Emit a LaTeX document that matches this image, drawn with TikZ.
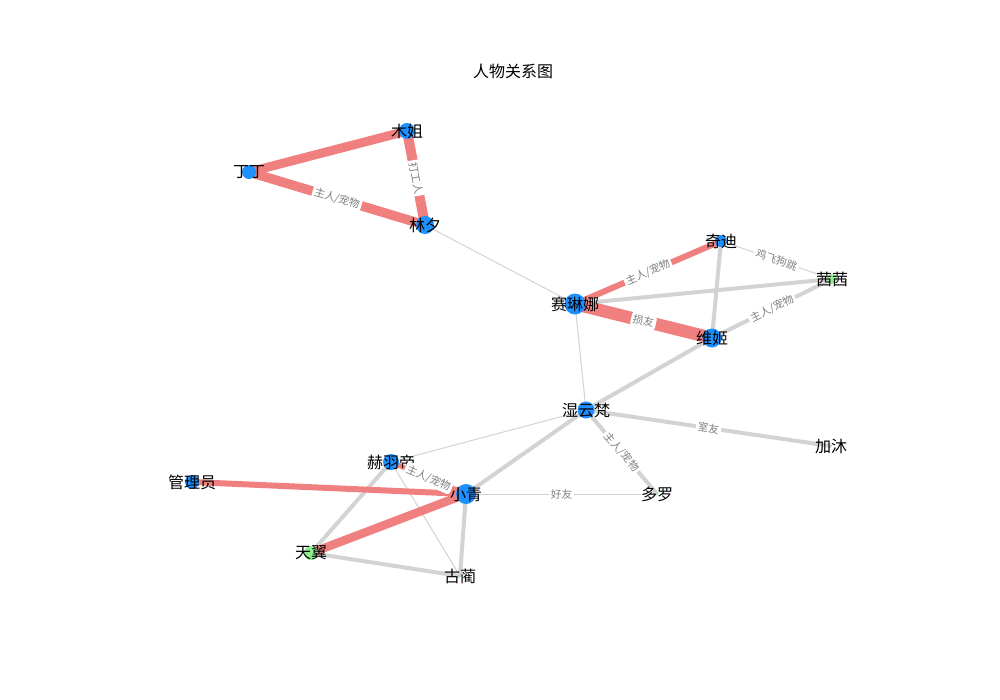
\documentclass[tikz,border=0pt]{standalone}
\usepackage{fontspec}
\setmainfont{Noto Sans CJK SC}
\definecolor{lc}{HTML}{F08080}
\definecolor{lg}{HTML}{D3D3D3}
\definecolor{db}{HTML}{1E90FF}
\definecolor{lgr}{HTML}{90EE90}
\begin{document}
\begin{tikzpicture}[x=0.75pt,y=-0.75pt,
 gthin/.style={draw=lg, line width=0.75pt},
 gthick/.style={draw=lg, line width=3pt},
 redge/.style={draw=lc, line width=#1},
 bdot/.style={circle, fill=db, inner sep=0pt, minimum size=#1},
 gdot/.style={circle, fill=lgr, inner sep=0pt, minimum size=#1},
 nlab/.style={font=\fontsize{12}{14}\selectfont, inner sep=0pt, text=black},
 elab/.style={font=\fontsize{8}{9}\selectfont, text=black!50, fill=white, inner sep=1.5pt, rounded corners=2pt, sloped, midway}
]
\useasboundingbox (0,0) rectangle (1000,700);
% positions
\coordinate (muj) at (407,131);
\coordinate (dd) at (249,172);
\coordinate (linx) at (425,225);
\coordinate (sln) at (575,304);
\coordinate (qd) at (721,241);
\coordinate (qq) at (832,279);
\coordinate (wj) at (712,338);
\coordinate (syf) at (586,410);
\coordinate (jm) at (831,446);
\coordinate (dl) at (657,494);
\coordinate (hyd) at (391,462);
\coordinate (xq) at (466,494);
\coordinate (gly) at (192,482);
\coordinate (ty) at (311,553);
\coordinate (gl) at (460,576);
% edges
\draw[gthin] (linx) -- (sln);
\draw[gthin] (sln) -- (syf);
\draw[gthin] (qd) -- (qq);
\draw[gthin] (syf) -- (hyd);
\draw[gthin] (xq) -- (dl);
\draw[gthin] (hyd) -- (gl);
\draw[redge=4.5pt] (sln) -- (qd);
\draw[gthick] (sln) -- (qq);
\draw[gthick] (qd) -- (wj);
\draw[gthick] (wj) -- (qq);
\draw[gthick] (wj) -- (syf);
\draw[gthick] (syf) -- (jm);
\draw[gthick] (syf) -- (dl);
\draw[gthick] (syf) -- (xq);
\draw[gthick] (xq) -- (gl);
\draw[gthick] (hyd) -- (ty);
\draw[gthick] (ty) -- (gl);
\draw[redge=6.75pt] (dd) -- (muj);
\draw[redge=7.1pt] (dd) -- (linx);
\draw[redge=7.5pt] (muj) -- (linx);
\draw[redge=9.4pt] (sln) -- (wj);
\draw[redge=4.5pt] (gly) -- (xq);
\draw[redge=6.4pt] (xq) -- (ty);
\draw[redge=3.75pt] (hyd) -- (xq);
% node circles
\node[bdot=12pt] (muj-c) at (muj) {};
\node[bdot=10.5pt] (dd-c) at (dd) {};
\node[bdot=13.5pt] (linx-c) at (linx) {};
\node[bdot=15.75pt] (sln-c) at (sln) {};
\node[bdot=9pt] (qd-c) at (qd) {};
\node[gdot=7.5pt] (qq-c) at (qq) {};
\node[bdot=14.25pt] (wj-c) at (wj) {};
\node[bdot=12.75pt] (syf-c) at (syf) {};
\node[gdot=1.5pt] (jm-c) at (jm) {};
\node[gdot=1.8pt] (dl-c) at (dl) {};
\node[bdot=12pt] (hyd-c) at (hyd) {};
\node[bdot=15pt] (xq-c) at (xq) {};
\node[bdot=10.5pt] (gly-c) at (gly) {};
\node[gdot=10.5pt] (ty-c) at (ty) {};
\node[gdot=2.25pt] (gl-c) at (gl) {};
% node labels
\node[nlab] (muj-t) at (muj) {木姐};
\node[nlab] (dd-t) at (dd) {丁丁};
\node[nlab] (linx-t) at (linx) {林夕};
\node[nlab] (sln-t) at (sln) {赛琳娜};
\node[nlab] (qd-t) at (qd) {奇迪};
\node[nlab] (qq-t) at (qq) {茜茜};
\node[nlab] (wj-t) at (wj) {维姬};
\node[nlab] (syf-t) at (syf) {湿云梵};
\node[nlab] (jm-t) at (jm) {加沐};
\node[nlab] (dl-t) at (dl) {多罗};
\node[nlab] (hyd-t) at (hyd) {赫羽帝};
\node[nlab] (xq-t) at (xq) {小青};
\node[nlab] (gly-t) at (gly) {管理员};
\node[nlab] (ty-t) at (ty) {天翼};
\node[nlab] (gl-t) at (gl) {古蔺};
% edge labels
\path (dd) -- (linx) node[elab] (e1) {主人/宠物};
\path (muj) -- (linx) node[elab] (e2) {打工人};
\path (sln) -- (qd) node[elab] (e3) {主人/宠物};
\path (sln) -- (wj) node[elab] (e4) {损友};
\path (qd) -- (qq) node[elab] (e5) {鸡飞狗跳};
\path (wj) -- (qq) node[elab] (e6) {主人/宠物};
\path (syf) -- (jm) node[elab] (e7) {室友};
\path (syf) -- (dl) node[elab] (e8) {主人/宠物};
\path (xq) -- (dl) node[elab] (e9) {好友};
\path (hyd) -- (xq) node[elab] (e10) {主人/宠物};
% title
\node[nlab] (title) at (513,71) {人物关系图};
\end{tikzpicture}
\end{document}
